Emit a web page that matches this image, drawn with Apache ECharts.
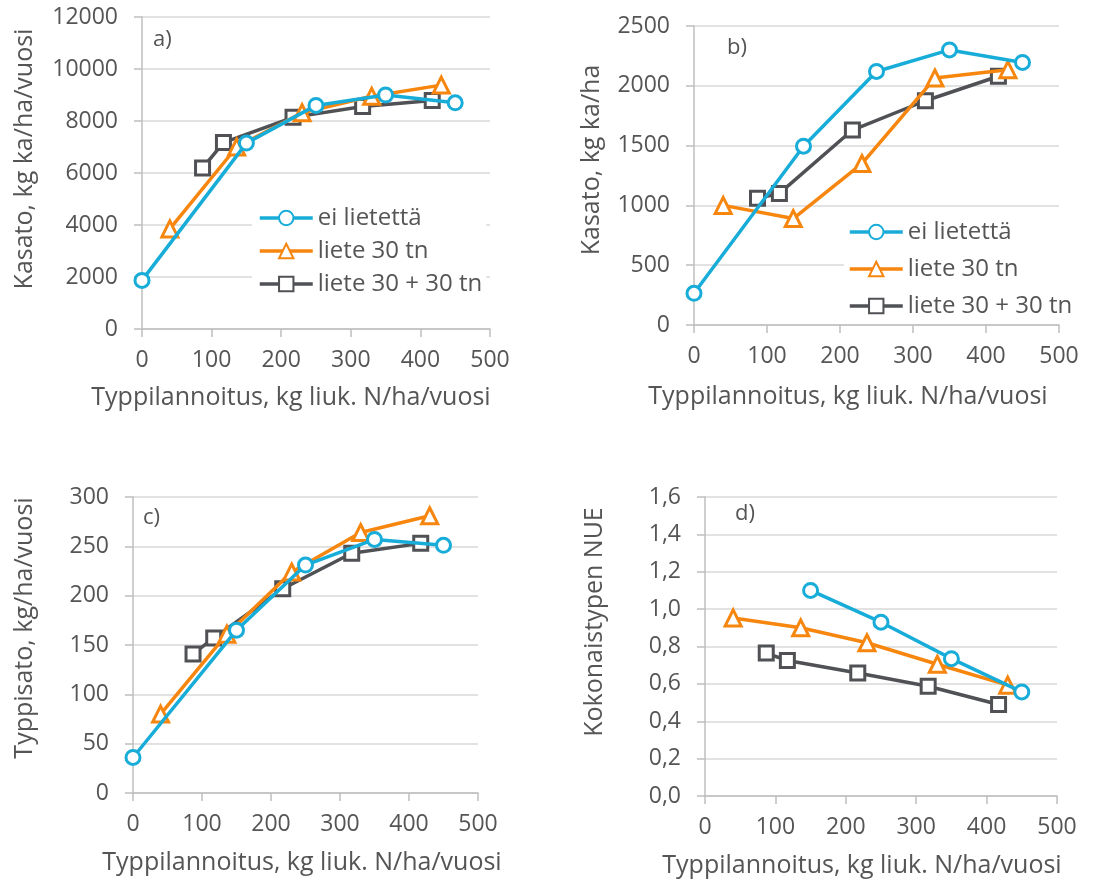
<!DOCTYPE html>
<html>
<head>
<meta charset="utf-8">
<script src="https://cdn.jsdelivr.net/npm/echarts@6/dist/echarts.min.js"></script>
<style>
  html, body { margin: 0; padding: 0; background: #ffffff; }
  #chart { width: 1093px; height: 881px; }
</style>
</head>
<body>
<div id="chart"></div>
<script>
// Nitrogen rates (kg soluble N/ha/year) for each treatment
const nRateNone = [0, 150, 250, 350, 450];
const nRateSlurry30 = [40, 136, 230, 330, 430];
const nRateSlurry60 = [87, 117, 217, 317, 417];

const seriesNames = ['ei lietettä', 'liete 30 tn', 'liete 30 + 30 tn'];

// a) dry matter yield, kg DM/ha/year
const yieldNone = [1870, 7150, 8600, 9000, 8700];
const yieldSlurry30 = [3850, 7000, 8320, 8950, 9380];
const yieldSlurry60 = [6190, 7170, 8140, 8560, 8790];

// b) dry matter yield, kg DM/ha
const yieldBNone = [265, 1495, 2120, 2300, 2195];
const yieldBSlurry30 = [1000, 890, 1350, 2065, 2135];
const yieldBSlurry60 = [1060, 1100, 1630, 1875, 2080];

// c) nitrogen yield, kg/ha/year
const nYieldNone = [36, 165, 231, 257, 251];
const nYieldSlurry30 = [80, 161, 224, 264, 281];
const nYieldSlurry60 = [141, 157, 207, 243, 253];

// d) total nitrogen use efficiency
const nueNone = [null, 1.10, 0.93, 0.735, 0.557];
const nueSlurry30 = [0.953, 0.90, 0.82, 0.705, 0.593];
const nueSlurry60 = [0.765, 0.725, 0.658, 0.587, 0.49];

// Axis ranges
const xTicks = { min: 0, max: 500, interval: 100 };
const yRanges = [
  { min: 0, max: 12000, interval: 2000 },
  { min: 0, max: 2500, interval: 500 },
  { min: 0, max: 300, interval: 50 },
  { min: 0, max: 1.6, interval: 0.2 }
];

const xTitle = 'Typpilannoitus, kg liuk. N/ha/vuosi';
const yTitles = ['Kasato, kg ka/ha/vuosi', 'Kasato, kg ka/ha', 'Typpisato, kg/ha/vuosi', 'Kokonaistypen NUE'];
const panelLabels = ['a)', 'b)', 'c)', 'd)'];

const COLORS = ['#18acd9', '#f7860f', '#4f5155'];
const SYMBOLS = ['circle', 'triangle', 'rect'];
const TEXT = '#555555';
const FONT = '"Open Sans", "Noto Sans", sans-serif';

const grids = [
  { left: 142, top: 17, width: 348, height: 312 },
  { left: 694, top: 26, width: 365, height: 299 },
  { left: 133, top: 497, width: 345, height: 296 },
  { left: 705, top: 497, width: 352, height: 299 }
];

const panelData = [
  [yieldNone, yieldSlurry30, yieldSlurry60],
  [yieldBNone, yieldBSlurry30, yieldBSlurry60],
  [nYieldNone, nYieldSlurry30, nYieldSlurry60],
  [nueNone, nueSlurry30, nueSlurry60]
];
const xArrays = [nRateNone, nRateSlurry30, nRateSlurry60];

const xAxes = grids.map((g, i) => ({
  type: 'value', gridIndex: i,
  min: xTicks.min, max: xTicks.max, interval: xTicks.interval,
  axisLine: { show: true, lineStyle: { color: '#bfbfbf', width: 1.5 } },
  axisTick: { show: true, inside: false, length: 8, lineStyle: { color: '#bfbfbf', width: 1.5 } },
  axisLabel: { color: TEXT, fontSize: 23, fontFamily: FONT, margin: 20 },
  splitLine: { show: false }
}));

const yAxes = grids.map((g, i) => ({
  type: 'value', gridIndex: i,
  min: yRanges[i].min, max: yRanges[i].max, interval: yRanges[i].interval,
  axisLine: { show: true, lineStyle: { color: '#bfbfbf', width: 1.5 } },
  axisTick: { show: true, inside: false, length: 8, lineStyle: { color: '#bfbfbf', width: 1.5 } },
  axisLabel: {
    color: TEXT, fontSize: 23, fontFamily: FONT, margin: 24,
    formatter: i === 3 ? (v => v.toFixed(1).replace('.', ',')) : (v => String(v))
  },
  splitLine: { show: true, lineStyle: { color: '#d9d9d9', width: 1.5 } }
}));

const series = [];
panelData.forEach((vals, p) => {
  vals.forEach((ys, s) => {
    series.push({
      name: seriesNames[s],
      type: 'line',
      xAxisIndex: p, yAxisIndex: p,
      data: ys.map((y, k) => [xArrays[s][k], y]),
      symbol: SYMBOLS[s],
      symbolSize: s === 1 ? 16 : 14,
      showAllSymbol: true,
      connectNulls: false,
      lineStyle: { color: COLORS[s], width: 3.5 },
      itemStyle: { color: '#ffffff', borderColor: COLORS[s], borderWidth: 3 },
      emphasis: { disabled: true },
      z: 2 + (2 - s)
    });
  });
});

const legendCommon = {
  orient: 'vertical',
  data: seriesNames,
  itemWidth: 53,
  itemHeight: 18,
  backgroundColor: '#ffffff',
  lineStyle: { width: 3.5 },
  textStyle: { color: TEXT, fontSize: 24, fontFamily: FONT, padding: [0, 0, 0, 0] },
  selectedMode: false
};

const legends = [
  Object.assign({}, legendCommon, { left: 252, top: 200, itemGap: 9, padding: [6, 4, 6, 6] }),
  Object.assign({}, legendCommon, { left: 844, top: 214, itemGap: 13, padding: [6, 4, 6, 4] })
];

// Axis titles and panel letters as text elements
const titlePos = [
  { xt: [291, 398], yt: [25, 159], lab: [153, 40] },
  { xt: [848, 397], yt: [592, 160], lab: [727, 48] },
  { xt: [302, 863], yt: [25, 628], lab: [143, 518] },
  { xt: [862, 866], yt: [595, 622], lab: [735, 514] }
];

const graphics = [];
titlePos.forEach((t, i) => {
  graphics.push({
    type: 'text', x: t.xt[0], y: t.xt[1],
    style: { text: xTitle, fill: TEXT, font: '25px ' + FONT, align: 'center', verticalAlign: 'middle' }
  });
  graphics.push({
    type: 'text', x: t.yt[0], y: t.yt[1], rotation: Math.PI / 2,
    style: { text: yTitles[i], fill: TEXT, font: '25px ' + FONT, align: 'center', verticalAlign: 'middle' }
  });
  graphics.push({
    type: 'text', x: t.lab[0], y: t.lab[1],
    style: { text: panelLabels[i], fill: TEXT, font: '22px ' + FONT, align: 'left', verticalAlign: 'middle' }
  });
});

const chart = echarts.init(document.getElementById('chart'), null, { renderer: 'canvas' });
chart.setOption({
  backgroundColor: '#ffffff',
  animation: false,
  grid: grids,
  xAxis: xAxes,
  yAxis: yAxes,
  legend: legends,
  series: series,
  graphic: graphics
});
</script>
</body>
</html>
